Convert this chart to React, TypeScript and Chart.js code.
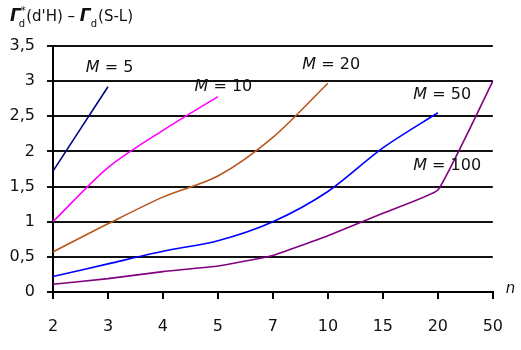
import React, { useEffect, useRef } from "react";
import { Chart, registerables } from "chart.js";

Chart.register(...registerables);

const categories = ["2", "3", "4", "5", "7", "10", "15", "20", "50"];
const m5 = [1.72, 2.92, null, null, null, null, null, null, null];
const m10 = [1.0, 1.77, 2.3, 2.78, null, null, null, null, null];
const m20 = [0.57, 0.97, 1.35, 1.65, 2.2, 2.97, null, null, null];
const m50 = [0.22, 0.4, 0.58, 0.73, 1.0, 1.43, 2.05, 2.55, null];
const m100 = [0.11, 0.19, 0.29, 0.37, 0.52, 0.8, 1.12, 1.45, 3.0];

const seriesNames = ["5", "10", "20", "50", "100"];
const seriesColors = ["#000080", "#FF00FF", "#B8561E", "#0000FF", "#800080"];
const seriesTension = [0.3, 0.3, 0.3, 0.3, 0.1];
// label anchors (category index, value)
const labelX = [1.03, 3.1, 5.06, 7.08, 7.17];
const labelY = [3.19, 2.92, 3.23, 2.8, 1.8];

const FONT = "'DejaVu Sans', sans-serif";

const annotate = {
  id: "annotate",
  afterDraw(chart: any) {
    const ctx = chart.ctx;
    const xs = chart.scales.x;
    const ys = chart.scales.y;
    ctx.save();
    ctx.fillStyle = "#111";
    ctx.textBaseline = "middle";
    seriesNames.forEach((n, i) => {
      const cx = xs.getPixelForValue(labelX[i]);
      const cy = ys.getPixelForValue(labelY[i]);
      ctx.font = "italic 16px " + FONT;
      const wM = ctx.measureText("M").width;
      ctx.font = "16px " + FONT;
      const rest = " = " + n;
      const wR = ctx.measureText(rest).width;
      const x0 = cx - (wM + wR) / 2;
      ctx.font = "italic 16px " + FONT;
      ctx.textAlign = "left";
      ctx.fillText("M", x0, cy);
      ctx.font = "16px " + FONT;
      ctx.fillText(rest, x0 + wM, cy);
    });
    // x axis name
    ctx.font = "italic 15px " + FONT;
    ctx.textAlign = "left";
    ctx.fillText("n", xs.right + 13, ys.bottom - 3);
    // y axis title
    let x = 10;
    const y = 17;
    const part = (t: string, font: string, dy: number) => {
      ctx.font = font;
      ctx.fillText(t, x, y + dy);
      x += ctx.measureText(t).width;
    };
    part("Γ", "italic bold 17px " + FONT, 0);
    const xs1 = x;
    part("*", "10px " + FONT, -6);
    x = xs1 - 2;
    part("d", "10px " + FONT, 7);
    x += 1;
    part("(d'H) – ", "15px " + FONT, 0);
    part("Γ", "italic bold 17px " + FONT, 0);
    part("d", "10px " + FONT, 7);
    x += 1;
    part("(S-L)", "15px " + FONT, 0);
    ctx.restore();
  },
};

export default function App() {
  const ref = useRef<HTMLCanvasElement>(null);
  useEffect(() => {
    if (!ref.current) return;
    const all = [m5, m10, m20, m50, m100];
    const chart = new Chart(ref.current, {
      type: "line",
      data: {
        labels: categories,
        datasets: all.map((d, i) => ({
          label: "M = " + seriesNames[i],
          data: d,
          borderColor: seriesColors[i],
          backgroundColor: seriesColors[i],
          borderWidth: 1.6,
          pointRadius: 0,
          tension: seriesTension[i],
          fill: false,
          spanGaps: false,
        })),
      },
      options: {
        animation: false,
        responsive: false,
        layout: { padding: { top: 46, right: 27, left: 0, bottom: 0 } },
        plugins: { legend: { display: false }, tooltip: { enabled: false } },
        scales: {
          x: {
            type: "category",
            offset: false,
            afterFit: (s: any) => {
              s.height = 58;
            },
            grid: {
              drawOnChartArea: false,
              drawTicks: true,
              tickLength: 7,
              color: "#000",
              lineWidth: 2,
            },
            border: { color: "#000", width: 2 },
            ticks: {
              color: "#111",
              font: { family: FONT, size: 16 },
              padding: 18,
              maxRotation: 0,
              autoSkip: false,
            },
          },
          y: {
            min: 0,
            max: 3.5,
            afterFit: (s: any) => {
              s.width = 53;
            },
            grid: {
              color: "#111",
              lineWidth: 2,
              tickLength: 6,
            },
            border: { color: "#000", width: 2 },
            ticks: {
              stepSize: 0.5,
              color: "#111",
              font: { family: FONT, size: 16 },
              padding: 12,
              callback: (v: any) => String(v).replace(".", ","),
            },
          },
        },
      },
      plugins: [annotate],
    });
    return () => chart.destroy();
  }, []);
  return (
    <div style={{ position: "fixed", left: 0, top: 0, width: 521, height: 350, background: "#fff" }}>
      <canvas ref={ref} width={521} height={350} style={{ width: 521, height: 350 }} />
    </div>
  );
}
